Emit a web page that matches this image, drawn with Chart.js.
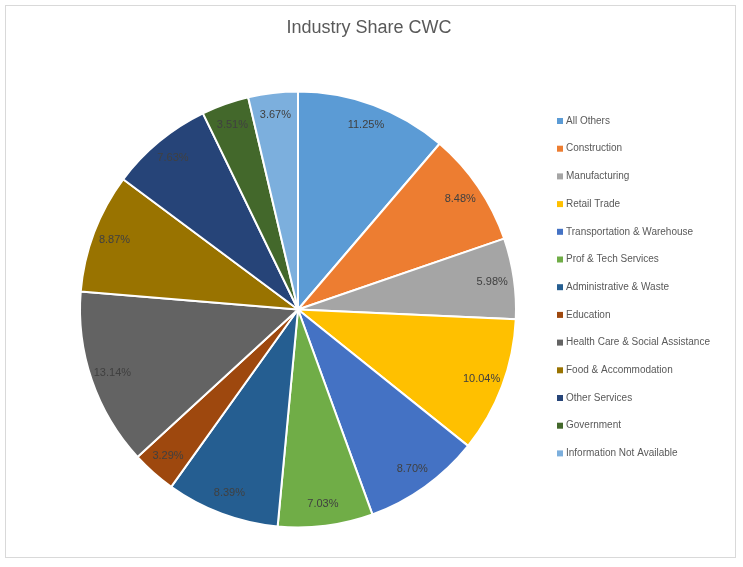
<!doctype html>
<html><head><meta charset="utf-8">
<style>html,body{margin:0;padding:0;background:#fff}#wrap{width:743px;height:567px}</style>
</head><body>
<div id="wrap"><canvas id="c"></canvas></div>
<script src="https://cdn.jsdelivr.net/npm/chart.js"></script>
<script>
let categories = ['All Others', 'Construction', 'Manufacturing', 'Retail Trade', 'Transportation & Warehouse',
    'Prof & Tech Services', 'Administrative & Waste', 'Education', 'Health Care & Social Assistance',
    'Food & Accommodation', 'Other Services', 'Government', 'Information Not Available']
let shares = [11.25, 8.48, 5.98, 10.04, 8.70, 7.03, 8.39, 3.29, 13.14, 8.87, 7.63, 3.51, 3.67]
let colors = ['#5B9BD5', '#ED7D31', '#A5A5A5', '#FFC000', '#4472C4', '#70AD47', '#255E91',
    '#9E480E', '#636363', '#997300', '#264478', '#43682B', '#7CAFDD']
let title = 'Industry Share CWC'
let font = '"Liberation Sans", Arial, sans-serif'

let extras = {
    id: 'extras',
    afterDraw(chart) {
        let ctx = chart.ctx
        ctx.save()
        ctx.strokeStyle = '#d9d9d9'
        ctx.lineWidth = 1
        ctx.strokeRect(5.5, 5.5, 730, 552)
        ctx.fillStyle = '#595959'
        ctx.font = '18px ' + font
        ctx.textAlign = 'center'
        ctx.textBaseline = 'middle'
        ctx.fillText(title, 369, 28)
        // slice labels
        ctx.font = '11px ' + font
        ctx.fillStyle = '#404040'
        chart.getDatasetMeta(0).data.forEach(function (arc, i) {
            let p = arc.tooltipPosition()
            let mid = (arc.startAngle + arc.endAngle) / 2
            let r = arc.outerRadius * 0.9
            ctx.fillText(shares[i].toFixed(2) + '%', arc.x + Math.cos(mid) * r, arc.y + Math.sin(mid) * r)
        })
        // legend
        ctx.textAlign = 'left'
        ctx.font = '10px ' + font
        categories.forEach(function (name, i) {
            let y = 121 + i * 27.7
            ctx.fillStyle = colors[i]
            ctx.fillRect(557, y - 3, 6, 6)
            ctx.fillStyle = '#595959'
            ctx.fillText(name, 566, y)
        })
        ctx.restore()
    }
}

new Chart(document.getElementById('c'), {
    type: 'pie',
    data: {labels: categories, datasets: [{data: shares, backgroundColor: colors, borderColor: '#fff', borderWidth: 2}]},
    options: {
        responsive: true,
        maintainAspectRatio: false,
        animation: false,
        layout: {padding: {left: 79, right: 226, top: 90, bottom: 38}},
        plugins: {legend: {display: false}, tooltip: {enabled: false}, title: {display: false}}
    },
    plugins: [extras]
})
</script>
</body></html>
